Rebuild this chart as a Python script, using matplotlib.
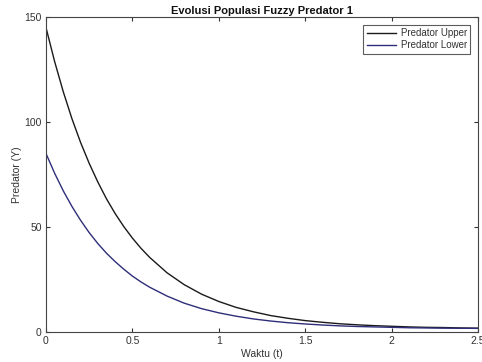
import matplotlib
matplotlib.use("Agg")
import matplotlib.pyplot as plt

t = [0.0, 0.05, 0.1, 0.15, 0.2, 0.25, 0.3, 0.35, 0.4, 0.45, 0.5, 0.55, 0.6,
     0.7, 0.8, 0.9, 1.0, 1.1, 1.2, 1.3, 1.4, 1.5, 1.6, 1.7, 1.8, 1.9, 2.0,
     2.1, 2.2, 2.3, 2.4, 2.5]
upper = [145.0, 128.8, 114.4, 101.6, 90.3, 80.3, 71.4, 63.4, 56.4, 50.2, 44.7,
         39.8, 35.5, 28.2, 22.5, 18.0, 14.5, 11.7, 9.6, 7.8, 6.5, 5.4, 4.6,
         3.9, 3.4, 3.0, 2.7, 2.4, 2.2, 2.1, 1.9, 1.8]
lower = [85.0, 75.6, 67.2, 59.8, 53.2, 47.3, 42.1, 37.5, 33.5, 29.9, 26.6,
         23.8, 21.3, 17.1, 13.7, 11.1, 9.1, 7.5, 6.2, 5.2, 4.4, 3.8, 3.3,
         2.9, 2.6, 2.4, 2.2, 2.0, 1.9, 1.8, 1.75, 1.7]
xticks = [0, 0.5, 1, 1.5, 2, 2.5]
xticklabels = ["0", "0.5", "1", "1.5", "2", "2.5"]
yticks = [0, 50, 100, 150]

plt.rcParams['font.family'] = ['Liberation Sans', 'DejaVu Sans']

fig = plt.figure(figsize=(4.82, 3.62), dpi=100)
ax = fig.add_axes([0.0954, 0.083, 0.8966, 0.870])

ax.plot(t, upper, color='#1a1a1a', lw=1.0, label='Predator Upper')
ax.plot(t, lower, color='#2e2e7a', lw=1.0, label='Predator Lower')

ax.set_xlim(0, 2.5)
ax.set_ylim(0, 150)
ax.set_xticks(xticks)
ax.set_xticklabels(xticklabels)
ax.set_yticks(yticks)
ax.tick_params(direction='in', top=True, right=True, length=3, width=0.8,
               labelsize=7.5, colors='#333333', pad=3)
for s in ax.spines.values():
    s.set_color('#444444')
    s.set_linewidth(0.8)

ax.set_title('Evolusi Populasi Fuzzy Predator 1', fontsize=8, fontweight='bold',
             pad=2, color='#111111')
ax.set_xlabel('Waktu (t)', fontsize=7.5, color='#333333', labelpad=2)
ax.set_ylabel('Predator (Y)', fontsize=7.5, color='#333333', labelpad=2)

leg = ax.legend(loc='upper right', fontsize=7, frameon=True, fancybox=False,
                edgecolor='#333333', handlelength=3.0, borderpad=0.35,
                labelspacing=0.2, handletextpad=0.5, borderaxespad=0.8)
leg.get_frame().set_linewidth(0.8)
for txt in leg.get_texts():
    txt.set_color('#333333')

fig.savefig('out.png', dpi=100)
